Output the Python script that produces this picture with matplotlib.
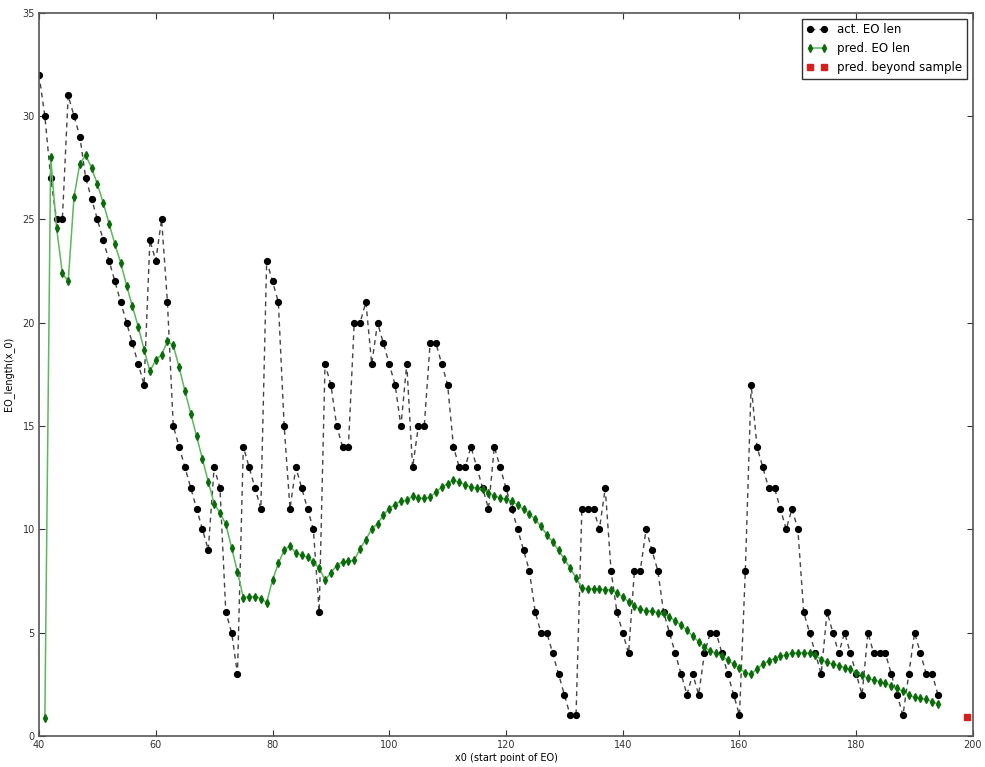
import numpy as np
import matplotlib
matplotlib.use('Agg')
import matplotlib.pyplot as plt

# actual EO length for every start point x0 = 40 .. 194
x_act = np.arange(40, 195)
act_len = [32, 30, 27, 25, 25, 31, 30, 29, 27, 26,
           25, 24, 23, 22, 21, 20, 19, 18, 17, 24,
           23, 25, 21, 15, 14, 13, 12, 11, 10, 9,
           13, 12, 6, 5, 3, 14, 13, 12, 11, 23,
           22, 21, 15, 11, 13, 12, 11, 10, 6, 18,
           17, 15, 14, 14, 20, 20, 21, 18, 20, 19,
           18, 17, 15, 18, 13, 15, 15, 19, 19, 18,
           17, 14, 13, 13, 14, 13, 12, 11, 14, 13,
           12, 11, 10, 9, 8, 6, 5, 5, 4, 3,
           2, 1, 1, 11, 11, 11, 10, 12, 8, 6,
           5, 4, 8, 8, 10, 9, 8, 6, 5, 4,
           3, 2, 3, 2, 4, 5, 5, 4, 3, 2,
           1, 8, 17, 14, 13, 12, 12, 11, 10, 11,
           10, 6, 5, 4, 3, 6, 5, 4, 5, 4,
           3, 2, 5, 4, 4, 4, 3, 2, 1, 3,
           5, 4, 3, 3, 2]

# predicted EO length, x0 = 41 .. 194
x_pred = np.arange(41, 195)
pred_len = [0.85, 28.0, 24.6, 22.4, 22.0, 26.1, 27.7, 28.1, 27.5, 26.7,
            25.8, 24.8, 23.8, 22.9, 21.8, 20.8, 19.8, 18.7, 17.65, 18.2,
            18.45, 19.1, 18.9, 17.85, 16.7, 15.6, 14.5, 13.4, 12.3, 11.25,
            10.8, 10.25, 9.1, 7.95, 6.7, 6.75, 6.75, 6.65, 6.45, 7.55,
            8.35, 9.0, 9.2, 8.85, 8.75, 8.65, 8.42, 8.12, 7.55, 7.9,
            8.25, 8.42, 8.47, 8.5, 9.07, 9.5, 10.03, 10.27, 10.7, 11.0,
            11.2, 11.37, 11.4, 11.6, 11.5, 11.5, 11.55, 11.8, 12.05, 12.2,
            12.37, 12.28, 12.15, 12.04, 12.0, 11.93, 11.78, 11.6, 11.53, 11.45,
            11.35, 11.19, 10.97, 10.76, 10.48, 10.14, 9.74, 9.39, 8.99, 8.55,
            8.13, 7.65, 7.16, 7.13, 7.13, 7.1, 7.08, 7.08, 6.92, 6.73,
            6.49, 6.27, 6.13, 6.05, 6.04, 5.97, 5.93, 5.76, 5.57, 5.36,
            5.12, 4.83, 4.56, 4.31, 4.1, 4.0, 3.86, 3.67, 3.48, 3.27,
            3.06, 3.0, 3.24, 3.48, 3.64, 3.75, 3.86, 3.93, 4.0, 4.03,
            4.04, 4.0, 3.91, 3.7, 3.56, 3.48, 3.4, 3.3, 3.22, 3.06,
            2.95, 2.79, 2.71, 2.63, 2.55, 2.42, 2.3, 2.17, 1.98, 1.87,
            1.82, 1.77, 1.66, 1.55]

# prediction past the end of the sample
x_beyond = [199]
pred_beyond = [0.9]

fig = plt.figure(figsize=(9.85, 7.67), dpi=100)
ax = fig.add_axes([0.0396, 0.0404, 0.9482, 0.9430])

ax.plot(x_act, act_len, linestyle='--', marker='o', markersize=4.2, linewidth=1,
        dashes=(3.5, 3), color='#444444', markerfacecolor='k', markeredgecolor='k',
        label='act. EO len')
ax.plot(x_pred, pred_len, '-', color='#5cb85c', marker='d', markersize=4.2,
        markerfacecolor='#0a6b0a', markeredgecolor='#0a6b0a', linewidth=1.1,
        label='pred. EO len')
ax.plot(x_beyond, pred_beyond, 's', color='#d62020', markersize=4.5,
        linestyle='none', label='pred. beyond sample')

ax.set_xlim(40, 200)
ax.set_ylim(0, 35)
ax.set_xticks(range(40, 201, 20))
ax.set_yticks(range(0, 36, 5))
ax.tick_params(direction='in', top=True, right=True, length=4, width=0.8,
               labelsize=7, colors='#333333', pad=3)
for s in ax.spines.values():
    s.set_color('#555555')
    s.set_linewidth(1.2)

ax.set_xlabel('x0 (start point of EO)', fontsize=7, labelpad=2)
ax.set_ylabel('EO_length(x_0)', fontsize=7, labelpad=6)

leg = ax.legend(loc='upper right', numpoints=2, fontsize=8.5, fancybox=False,
                handlelength=1.8, borderaxespad=0.5, framealpha=1)
leg.get_frame().set_edgecolor('#333333')
leg.get_frame().set_linewidth(1.0)

plt.savefig('out.png', dpi=100)
plt.close()
